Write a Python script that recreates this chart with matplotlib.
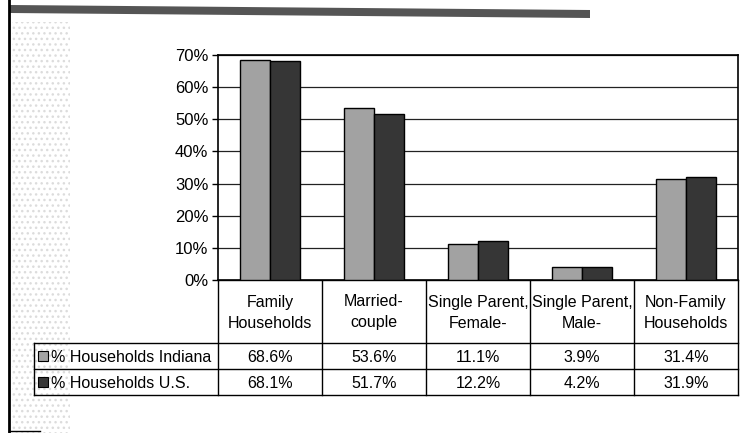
import numpy as np
import matplotlib
matplotlib.use("Agg")
import matplotlib.pyplot as plt
from matplotlib.patches import Rectangle, Polygon

plt.rcParams['font.family'] = ['Liberation Sans', 'DejaVu Sans']

categories = ["Family\nHouseholds", "Married-\ncouple", "Single Parent,\nFemale-",
              "Single Parent,\nMale-", "Non-Family\nHouseholds"]
series_names = ["% Households Indiana", "% Households U.S."]
indiana = [68.6, 53.6, 11.1, 3.9, 31.4]
us = [68.1, 51.7, 12.2, 4.2, 31.9]
yticks = [0, 10, 20, 30, 40, 50, 60, 70]

c_ind = '#a2a2a2'
c_us = '#363636'
fs = 11.5

W, H = 754, 433
fig = plt.figure(figsize=(W / 100, H / 100), dpi=100)

# overlay in pixel coords for table + page decorations
ov = fig.add_axes([0, 0, 1, 1])
ov.set_xlim(0, W)
ov.set_ylim(H, 0)
ov.axis('off')
ov.patch.set_visible(False)

# scan decorations: dark band on top, left rule, dotted margin
ov.add_patch(Polygon([(10, 5), (590, 10), (590, 18), (10, 13)], closed=True,
                     facecolor='#555555', edgecolor='none'))
ov.add_patch(Rectangle((12, 22), 58, H - 22, facecolor='none', edgecolor='#dcdcdc',
                       hatch='...', linewidth=0))
ov.plot([9, 9], [0, H], color='black', lw=2)
ov.plot([9, 40], [431, 431], color='black', lw=1)

# bar chart
left, right, top, bottom = 218, 738, 55, 280
ax = fig.add_axes([left / W, 1 - bottom / H, (right - left) / W, (bottom - top) / H])
x = np.arange(len(categories))
w = 0.29
ax.bar(x - w / 2, indiana, w, color=c_ind, edgecolor='black', linewidth=1, zorder=3)
ax.bar(x + w / 2, us, w, color=c_us, edgecolor='black', linewidth=1, zorder=3)
ax.set_xlim(-0.5, len(categories) - 0.5)
ax.set_ylim(0, 70)
ax.set_yticks(yticks)
ax.set_yticklabels([f"{t}%" for t in yticks], fontsize=12)
ax.set_xticks([])
ax.tick_params(axis='y', length=4, width=1, pad=3, direction='out')
ax.grid(axis='y', color='#222222', linewidth=0.9, zorder=0)
for s in ax.spines.values():
    s.set_linewidth(1.2)
    s.set_color('black')

# data table below the axis
cols = np.linspace(left, right, len(categories) + 1)
leg_left = 34
r0, r1, r2, r3 = 280, 343, 369, 395
lk = dict(color='black', lw=1)
ov.plot([left, right], [r0, r0], **lk)
ov.plot([leg_left, right], [r1, r1], **lk)
ov.plot([leg_left, right], [r2, r2], **lk)
ov.plot([leg_left, right], [r3, r3], **lk)
for cx in cols:
    ov.plot([cx, cx], [r0, r3], **lk)
ov.plot([leg_left, leg_left], [r1, r3], **lk)

for i, cat in enumerate(categories):
    cx = (cols[i] + cols[i + 1]) / 2
    ov.text(cx, (r0 + r1) / 2 + 1, cat, ha='center', va='center', fontsize=fs,
            linespacing=1.5)
    ov.text(cx, (r1 + r2) / 2 + 1, f"{indiana[i]:.1f}%", ha='center', va='center', fontsize=fs)
    ov.text(cx, (r2 + r3) / 2 + 1, f"{us[i]:.1f}%", ha='center', va='center', fontsize=fs)

for (ya, yb), name, col in zip([(r1, r2), (r2, r3)], series_names, [c_ind, c_us]):
    ym = (ya + yb) / 2
    ov.add_patch(Rectangle((38, ym - 5), 10, 10, facecolor=col, edgecolor='black', lw=0.8))
    ov.text(51, ym + 1, name, ha='left', va='center', fontsize=fs)

fig.savefig('out.png', dpi=100)
